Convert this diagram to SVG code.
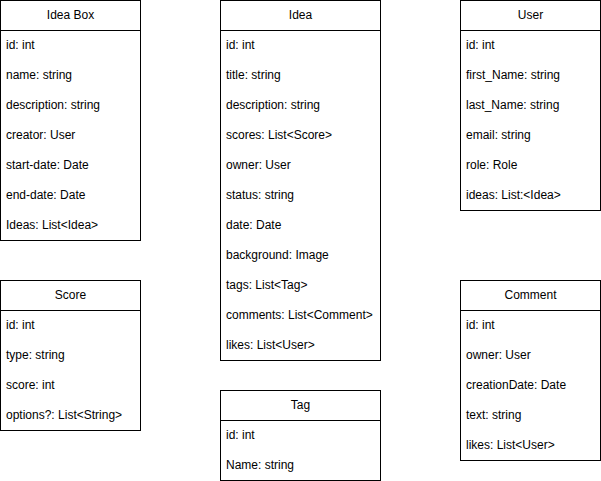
<svg xmlns="http://www.w3.org/2000/svg" width="601" height="481" viewBox="0 0 601 481">
<style>
.box{fill:#fff;stroke:#000;stroke-width:1}
.sep{stroke:#000;stroke-width:1}
text{font-family:"Liberation Sans",Arial,sans-serif;font-size:12px;fill:#000}
.t{text-anchor:middle}
</style>
<rect width="601" height="481" fill="#fff"/>
<g id="ideabox">
<rect class="box" x="0.5" y="0.5" width="140" height="240"/>
<line class="sep" x1="0.5" y1="30.5" x2="140.5" y2="30.5"/>
<text class="t" x="70.5" y="18.5">Idea Box</text>
<text x="6" y="48.5">id: int</text>
<text x="6" y="78.5">name: string</text>
<text x="6" y="108.5">description: string</text>
<text x="6" y="138.5">creator: User</text>
<text x="6" y="168.5">start-date: Date</text>
<text x="6" y="198.5">end-date: Date</text>
<text x="6" y="228.5">Ideas: List&lt;Idea&gt;</text>
</g>
<g id="idea">
<rect class="box" x="220.5" y="0.5" width="160" height="360"/>
<line class="sep" x1="220.5" y1="30.5" x2="380.5" y2="30.5"/>
<text class="t" x="300.5" y="18.5">Idea</text>
<text x="226" y="48.5">id: int</text>
<text x="226" y="78.5">title: string</text>
<text x="226" y="108.5">description: string</text>
<text x="226" y="138.5">scores: List&lt;Score&gt;</text>
<text x="226" y="168.5">owner: User</text>
<text x="226" y="198.5">status: string</text>
<text x="226" y="228.5">date: Date</text>
<text x="226" y="258.5">background: Image</text>
<text x="226" y="288.5">tags: List&lt;Tag&gt;</text>
<text x="226" y="318.5">comments: List&lt;Comment&gt;</text>
<text x="226" y="348.5">likes: List&lt;User&gt;</text>
</g>
<g id="user">
<rect class="box" x="460.5" y="0.5" width="140" height="210"/>
<line class="sep" x1="460.5" y1="30.5" x2="600.5" y2="30.5"/>
<text class="t" x="530.5" y="18.5">User</text>
<text x="466" y="48.5">id: int</text>
<text x="466" y="78.5">first_Name: string</text>
<text x="466" y="108.5">last_Name: string</text>
<text x="466" y="138.5">email: string</text>
<text x="466" y="168.5">role: Role</text>
<text x="466" y="198.5">ideas: List:&lt;Idea&gt;</text>
</g>
<g id="score">
<rect class="box" x="0.5" y="280.5" width="140" height="150"/>
<line class="sep" x1="0.5" y1="310.5" x2="140.5" y2="310.5"/>
<text class="t" x="70.5" y="298.5">Score</text>
<text x="6" y="328.5">id: int</text>
<text x="6" y="358.5">type: string</text>
<text x="6" y="388.5">score: int</text>
<text x="6" y="418.5">options?: List&lt;String&gt;</text>
</g>
<g id="tag">
<rect class="box" x="220.5" y="390.5" width="160" height="90"/>
<line class="sep" x1="220.5" y1="420.5" x2="380.5" y2="420.5"/>
<text class="t" x="300.5" y="408.5">Tag</text>
<text x="226" y="438.5">id: int</text>
<text x="226" y="468.5">Name: string</text>
</g>
<g id="comment">
<rect class="box" x="460.5" y="280.5" width="140" height="180"/>
<line class="sep" x1="460.5" y1="310.5" x2="600.5" y2="310.5"/>
<text class="t" x="530.5" y="298.5">Comment</text>
<text x="466" y="328.5">id: int</text>
<text x="466" y="358.5">owner: User</text>
<text x="466" y="388.5">creationDate: Date</text>
<text x="466" y="418.5">text: string</text>
<text x="466" y="448.5">likes: List&lt;User&gt;</text>
</g>
<g id="connectors"></g>
</svg>
